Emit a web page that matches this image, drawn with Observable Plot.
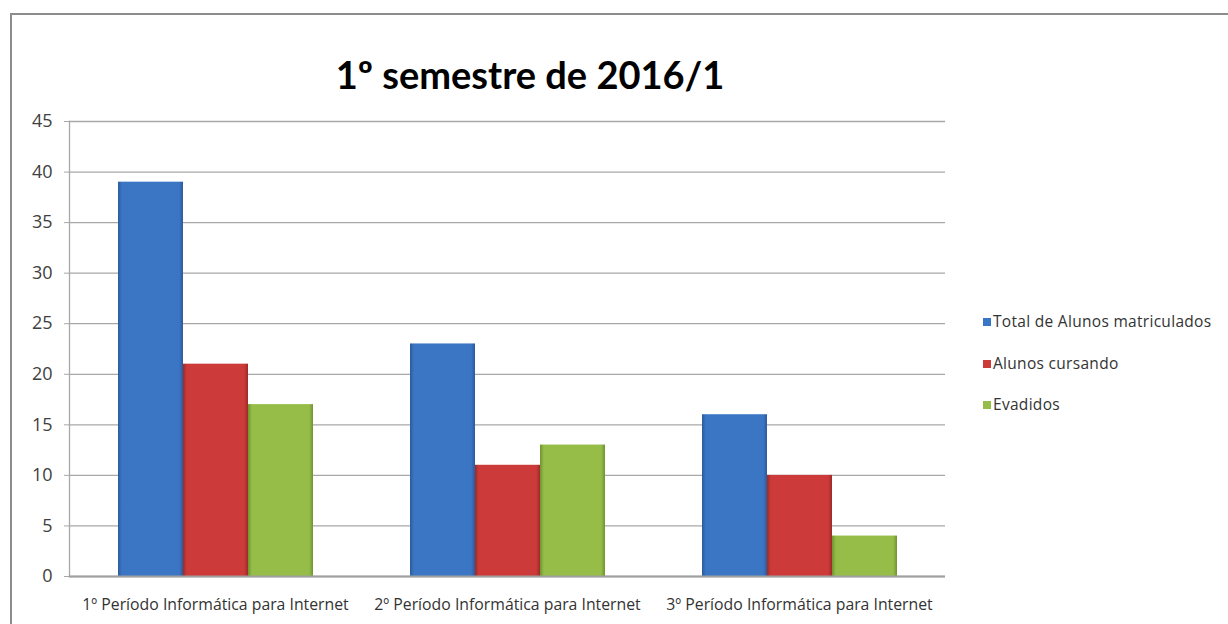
<!DOCTYPE html>
<html>
<head>
<meta charset="utf-8">
<script src="https://cdn.jsdelivr.net/npm/d3@7"></script>
<script src="https://cdn.jsdelivr.net/npm/@observablehq/plot@0.6"></script>
<style>
  html, body { margin: 0; padding: 0; background: #fff; overflow: hidden; width: 1228px; height: 624px; }
  #frame { position: absolute; left: 10px; top: 13px; width: 1240px; height: 700px; border: 2px solid #8c8c8c; box-sizing: border-box; }
  #title { position: absolute; left: 92px; width: 876px; top: 55px; text-align: center; font-family: Lato, "Open Sans", sans-serif; font-weight: bold; font-size: 38px; color: #000; line-height: 1; }
  #chart { position: absolute; left: 0; top: 0; }
  #chart g[aria-label="y-axis tick label"] { font-size: 18px; }
  #legend { position: absolute; left: 983px; top: 310px; font-family: "Open Sans", sans-serif; font-size: 15.5px; letter-spacing: 0.3px; color: #333; }
  #legend .item { height: 41.5px; display: flex; align-items: flex-start; white-space: nowrap; }
  #legend .sw { width: 8px; height: 8px; margin-top: 8px; margin-right: 2px; }
</style>
</head>
<body>
<div id="frame"></div>
<div id="title">1º semestre de 2016/1</div>
<div id="chart"></div>
<div id="legend"></div>
<script>
const groups = ["1º Período Informática para Internet", "2º Período Informática para Internet", "3º Período Informática para Internet"];
const series = ["Total de Alunos matriculados", "Alunos cursando", "Evadidos"];
const colors = ["#3b76c4", "#cc3b39", "#95bd47"];
const darkColors = ["#2c5a9a", "#9c2a28", "#6f9332"];
const totalMatriculados = [39, 23, 16];
const alunosCursando = [21, 11, 10];
const evadidos = [17, 13, 4];
const yTicks = [0, 5, 10, 15, 20, 25, 30, 35, 40, 45];

const valuesBySeries = [totalMatriculados, alunosCursando, evadidos];
const data = [];
groups.forEach((g, gi) => series.forEach((s, si) => data.push({group: g, series: s, value: valuesBySeries[si][gi]})));

const gradIds = series.map((s, i) => `grad${i}`);

const plot = Plot.plot({
  width: 1228,
  height: 624,
  marginLeft: 69,
  marginRight: 283,
  marginTop: 121,
  marginBottom: 48,
  style: {fontFamily: "'Open Sans', sans-serif", background: "transparent"},
  fx: {domain: groups, padding: 0, label: null, axis: null},
  x: {domain: series, paddingInner: 0, paddingOuter: 0.74, axis: null},
  y: {domain: [0, 45], ticks: yTicks, label: null},
  color: {domain: series, range: gradIds.map(id => `url(#${id})`)},
  marks: [
    Plot.gridY(yTicks, {stroke: "#a8a8a8", strokeOpacity: 1, strokeWidth: 1.3}),
    Plot.axisY(yTicks, {tickSize: 5, tickPadding: 12, fontSize: 18, fill: "#404040", stroke: "#a8a8a8", label: null}),
    Plot.frame({anchor: "left", facetAnchor: "left", stroke: "#a8a8a8", strokeWidth: 1.3}),
    Plot.barY(data, {fx: "group", x: "series", y: "value", fill: "series"}),
    Plot.ruleY([0], {stroke: "#a0a0a0", strokeWidth: 2}),
    Plot.axisFx({anchor: "bottom", tickSize: 0, tickPadding: 22, fontSize: 15.8, fill: "#333", label: null})
  ]
});

// gradient definitions for the bevelled bar look
const svgNS = "http://www.w3.org/2000/svg";
const defs = document.createElementNS(svgNS, "defs");
series.forEach((s, i) => {
  const lg = document.createElementNS(svgNS, "linearGradient");
  lg.setAttribute("id", gradIds[i]);
  lg.setAttribute("x1", "0"); lg.setAttribute("x2", "1"); lg.setAttribute("y1", "0"); lg.setAttribute("y2", "0");
  [[0, darkColors[i]], [0.06, colors[i]], [0.5, colors[i]], [0.94, colors[i]], [1, darkColors[i]]].forEach(([o, c]) => {
    const st = document.createElementNS(svgNS, "stop");
    st.setAttribute("offset", o);
    st.setAttribute("stop-color", c);
    lg.appendChild(st);
  });
  defs.appendChild(lg);
});
plot.insertBefore(defs, plot.firstChild);
document.getElementById("chart").appendChild(plot);

const legend = document.getElementById("legend");
series.forEach((s, i) => {
  const item = document.createElement("div");
  item.className = "item";
  item.innerHTML = `<span class="sw" style="background:${colors[i]}"></span><span>${s}</span>`;
  legend.appendChild(item);
});
</script>
</body>
</html>
